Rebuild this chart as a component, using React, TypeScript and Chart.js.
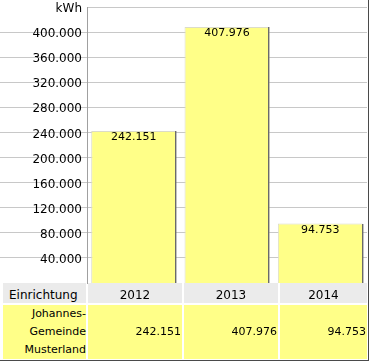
import React, { useEffect, useRef } from "react";
import { Chart, registerables } from "chart.js";

Chart.register(...registerables);

// ---- data ----
const years = ["2012", "2013", "2014"];
const consumption = [242151, 407976, 94753];
const facilityName = "Johannes-Gemeinde Musterland";
const tableHeaderLabel = "Einrichtung";
const unitLabel = "kWh";
const yMax = 440000;
const yStep = 40000;

// ---- styles ----
const BAR_YELLOW = "#ffff88";
const HEADER_GREY = "#ebebeb";
const GRID_GREY = "#c8c8c8";
const FONT = '"DejaVu Sans", Verdana, sans-serif';

const colLeft = [3, 88, 184, 280];
const colWidth = [83, 94, 94, 87];

const fmt = (v: number) =>
  String(Math.round(v)).replace(/\B(?=(\d{3})+(?!\d))/g, ".");

const align = (p: number, w: number) => Math.round(p - w / 2) + w / 2;

const extGridPlugin = {
  id: "extGrid",
  beforeDraw(chart: any) {
    const y = chart.scales.y;
    const ctx = chart.ctx;
    ctx.save();
    ctx.strokeStyle = GRID_GREY;
    ctx.lineWidth = 1;
    y.ticks.forEach((t: any) => {
      if (t.value === 0 || t.value === yMax) return;
      const py = align(y.getPixelForValue(t.value), 1);
      ctx.beginPath();
      ctx.moveTo(0, py);
      ctx.lineTo(chart.chartArea.left, py);
      ctx.stroke();
    });
    ctx.restore();
  },
};

const barDecorPlugin = {
  id: "barDecor",
  afterDatasetsDraw(chart: any) {
    const ctx = chart.ctx;
    const meta = chart.getDatasetMeta(0);
    ctx.save();
    meta.data.forEach((el: any, i: number) => {
      const { x, y, base, width } = el.getProps(["x", "y", "base", "width"], true);
      const right = Math.round(x + width / 2);
      ctx.fillStyle = "#6a6a6a";
      ctx.fillRect(right - 1, Math.round(y), 1.4, Math.round(base) - Math.round(y));
      ctx.fillStyle = "#000";
      ctx.font = "11px " + FONT;
      ctx.textAlign = "center";
      ctx.textBaseline = "top";
      ctx.fillText(fmt(consumption[i]), x, y + 1);
    });
    ctx.restore();
  },
};

export default function App() {
  const ref = useRef<HTMLCanvasElement>(null);

  useEffect(() => {
    document.body.style.margin = "0";
    const chart = new Chart(ref.current as HTMLCanvasElement, {
      type: "bar",
      data: {
        labels: years,
        datasets: [
          {
            data: consumption,
            backgroundColor: BAR_YELLOW,
            borderColor: "#dcdcc8",
            borderWidth: { top: 1, left: 1, right: 0, bottom: 0 },
            borderSkipped: false,
            barPercentage: 0.91,
            categoryPercentage: 1,
          },
        ],
      },
      options: {
        responsive: false,
        animation: false,
        layout: { padding: { top: 7, right: 1, bottom: 1, left: 0 } },
        plugins: {
          legend: { display: false },
          tooltip: { enabled: false },
        },
        scales: {
          x: { display: false },
          y: {
            min: 0,
            max: yMax,
            afterFit(scale: any) {
              scale.width = 87;
              scale.paddingTop = 0;
              scale.paddingBottom = 0;
            },
            ticks: {
              stepSize: yStep,
              color: "#000",
              font: { family: FONT, size: 12, lineHeight: 1.17 },
              padding: 5,
              labelOffset: 2,
              callback: (v: any) => {
                const n = Number(v);
                if (n === 0) return null;
                if (n === yMax) return unitLabel;
                return fmt(n);
              },
            },
            grid: {
              drawTicks: false,
              color: (c: any) =>
                c.tick && c.tick.value === 0 ? "rgba(0,0,0,0)" : GRID_GREY,
            },
            border: { display: true, color: "#a0a0a0", width: 1 },
          },
        },
      },
      plugins: [extGridPlugin, barDecorPlugin],
    });
    return () => chart.destroy();
  }, []);

  const headerCells = [tableHeaderLabel, ...years];
  const dataCells = [facilityName, ...consumption.map(fmt)];

  return (
    <div
      style={{
        position: "absolute",
        left: 0,
        top: 0,
        width: 368,
        height: 360,
        borderRight: "1px solid #4a4a4a",
        borderBottom: "1px solid #4a4a4a",
        background: "#fff",
        fontFamily: FONT,
        overflow: "hidden",
      }}
    >
      <canvas
        ref={ref}
        width={368}
        height={284}
        style={{ display: "block", width: 368, height: 284 }}
      />
      {headerCells.map((t, i) => (
        <div
          key={"h" + i}
          style={{
            position: "absolute",
            left: colLeft[i],
            top: 283,
            width: colWidth[i],
            height: 20,
            background: HEADER_GREY,
            fontSize: 12,
            lineHeight: "24px",
            color: "#000",
            textAlign: i === 0 ? "left" : "center",
            paddingLeft: i === 0 ? 6 : 0,
            boxSizing: "border-box",
            whiteSpace: "nowrap",
          }}
        >
          {t}
        </div>
      ))}
      {dataCells.map((t, i) => (
        <div
          key={"d" + i}
          style={{
            position: "absolute",
            left: colLeft[i],
            top: 305,
            width: colWidth[i],
            height: 54,
            background: BAR_YELLOW,
            fontSize: 11,
            lineHeight: i === 0 ? "18px" : "54px",
            color: "#000",
            textAlign: "right",
            paddingRight: i === 0 ? 0 : 1,
            boxSizing: "border-box",
          }}
        >
          {t}
        </div>
      ))}
    </div>
  );
}
